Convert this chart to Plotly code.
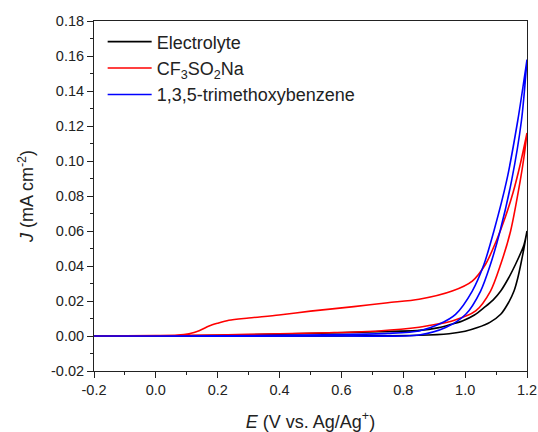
import plotly.graph_objects as go

# Cyclic voltammograms: each sample has an outer (anodic) and an inner (return) sweep
E_ELEC_UP = [-0.2, 0.0, 0.2, 0.4, 0.56, 0.72, 0.851, 0.915, 0.95, 0.991, 1.03, 1.061, 1.09, 1.115, 1.14,
             1.163, 1.19, 1.2]
J_ELEC_UP = [0.0, 0.0, 0.0004, 0.0011, 0.0017, 0.0025, 0.0032, 0.0048, 0.0064, 0.0086, 0.012, 0.0162, 0.0205,
             0.0257, 0.033, 0.041, 0.052, 0.060]
E_ELEC_DN = [1.2, 1.19, 1.18, 1.17, 1.158, 1.14, 1.115, 1.08, 1.04, 1.0, 0.948, 0.851, 0.6, 0.2, -0.2]
J_ELEC_DN = [0.060, 0.050, 0.041, 0.033, 0.0257, 0.019, 0.0124, 0.0078, 0.0048, 0.0027, 0.0013, 0.0004, 0.0001,
             0.0, 0.0]

E_CF3_UP = [-0.2, 0.0, 0.07, 0.107, 0.14, 0.172, 0.2, 0.236, 0.3, 0.398, 0.5, 0.64, 0.75, 0.851, 0.958,
            1.023, 1.066, 1.1, 1.13, 1.155, 1.178, 1.2]
J_CF3_UP = [0.0, 0.0002, 0.0005, 0.0013, 0.003, 0.0057, 0.0073, 0.009, 0.0103, 0.012, 0.0142, 0.0168, 0.019,
            0.021, 0.0257, 0.0314, 0.041, 0.054, 0.068, 0.082, 0.098, 0.116]
E_CF3_DN = [1.2, 1.19, 1.178, 1.147, 1.115, 1.082, 1.034, 0.958, 0.883, 0.851, 0.72, 0.56, 0.4, 0.2, 0.0, -0.2]
J_CF3_DN = [0.116, 0.102, 0.0886, 0.060, 0.041, 0.0257, 0.0143, 0.0086, 0.006, 0.005, 0.0029, 0.0019, 0.0013,
            0.0006, 0.0002, 0.0]

E_TMB_UP = [-0.2, 0.0, 0.4, 0.6, 0.75, 0.851, 0.915, 0.969, 1.023, 1.061, 1.093, 1.134, 1.17, 1.2]
J_TMB_UP = [0.0, 0.0, 0.0004, 0.0008, 0.0015, 0.0029, 0.0067, 0.0124, 0.0257, 0.041, 0.060, 0.0886, 0.123, 0.158]
E_TMB_DN = [1.2, 1.182, 1.15, 1.113, 1.082, 1.05, 1.002, 0.937, 0.851, 0.6, -0.2]
J_TMB_DN = [0.158, 0.123, 0.0886, 0.060, 0.041, 0.0257, 0.0124, 0.0048, 0.0006, 0.0, 0.0]

SERIES = [
    ("Electrolyte", E_ELEC_UP + E_ELEC_DN, J_ELEC_UP + J_ELEC_DN, "#000000"),
    ("CF<sub>3</sub>SO<sub>2</sub>Na", E_CF3_UP + E_CF3_DN, J_CF3_UP + J_CF3_DN, "#ff0000"),
    ("1,3,5-trimethoxybenzene", E_TMB_UP + E_TMB_DN, J_TMB_UP + J_TMB_DN, "#0000ff"),
]

X_TICKS = [-0.2, 0.0, 0.2, 0.4, 0.6, 0.8, 1.0, 1.2]
X_LABELS = ["-0.2", "0.0", "0.2", "0.4", "0.6", "0.8", "1.0", "1.2"]
Y_TICKS = [-0.02, 0.0, 0.02, 0.04, 0.06, 0.08, 0.10, 0.12, 0.14, 0.16, 0.18]
Y_LABELS = ["-0.02", "0.00", "0.02", "0.04", "0.06", "0.08", "0.10", "0.12", "0.14", "0.16", "0.18"]

FONT = "Liberation Sans, Arial, sans-serif"

fig = go.Figure()
for name, e, j, color in SERIES:
    fig.add_trace(go.Scatter(
        x=e, y=j, name=name, mode="lines",
        line=dict(color=color, width=1.6, shape="spline", smoothing=0.8),
    ))

axis_common = dict(
    showline=True, linecolor="#222", linewidth=1, mirror=True,
    showgrid=False, zeroline=False, automargin=False,
    ticks="outside", ticklen=6, tickwidth=1, tickcolor="#222",
    tickfont=dict(family=FONT, size=14.5, color="#222"),
)

fig.update_layout(
    width=538, height=432,
    margin=dict(l=94, r=11, t=21, b=61),
    paper_bgcolor="white", plot_bgcolor="white",
    font=dict(family=FONT, color="#222"),
    showlegend=True,
    legend=dict(
        x=0.02, y=0.993, xanchor="left", yanchor="top",
        bgcolor="rgba(0,0,0,0)", borderwidth=0,
        font=dict(family=FONT, size=18, color="#222"),
        itemwidth=44, tracegroupgap=0,
    ),
    xaxis=dict(
        axis_common, range=[-0.2, 1.2],
        tickvals=X_TICKS, ticktext=X_LABELS,
        minor=dict(ticks="outside", ticklen=3, dtick=0.1, tick0=0, tickcolor="#222"),
        title=dict(text="<i>E</i> (V vs. Ag/Ag<sup>+</sup>)", font=dict(family=FONT, size=18), standoff=17),
    ),
    yaxis=dict(
        axis_common, range=[-0.02, 0.18],
        tickvals=Y_TICKS, ticktext=Y_LABELS,
        minor=dict(ticks="outside", ticklen=3, dtick=0.01, tick0=0, tickcolor="#222"),
        title=dict(text="<i>J</i> (mA cm<sup>-2</sup>)", font=dict(family=FONT, size=18), standoff=12),
    ),
)

fig.write_html("out.html")
